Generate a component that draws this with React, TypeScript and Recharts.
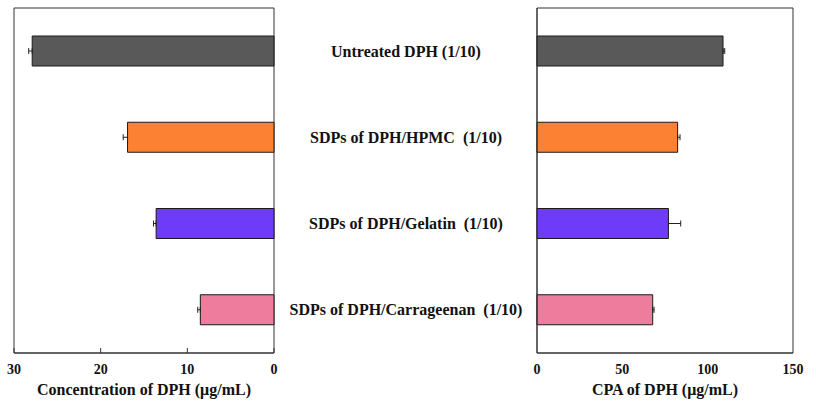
import React from 'react';
import { BarChart, Bar, XAxis, YAxis, ErrorBar, Cell, ReferenceArea } from 'recharts';

const categories = [
  'Untreated DPH (1/10)',
  'SDPs of DPH/HPMC  (1/10)',
  'SDPs of DPH/Gelatin  (1/10)',
  'SDPs of DPH/Carrageenan  (1/10)',
];
const concentration = [27.9, 16.9, 13.6, 8.5];
const concentrationErr = [0.4, 0.5, 0.3, 0.3];
const cpa = [109, 82.4, 77, 67.8];
const cpaErr = [1.0, 1.4, 7.2, 0.8];
const colors = ['#595959', '#FD8133', '#6E3BF8', '#EE7C9C'];
const concTicks = [0, 10, 20, 30];
const cpaTicks = [0, 50, 100, 150];

const data = categories.map((name, i) => ({
  name,
  conc: concentration[i],
  concErr: [0, concentrationErr[i]],
  cpa: cpa[i],
  cpaErr: [0, cpaErr[i]],
}));

const FONT = "'Liberation Serif', 'Times New Roman', serif";
const tickStyle = { fontFamily: FONT, fontWeight: 700, fontSize: 14, fill: '#111' };
const labelStyle = { fontFamily: FONT, fontWeight: 700, fontSize: 16, fill: '#111', textAnchor: 'middle' as const };
const axisStroke = '#333';

const CenterTick = (props: any) => {
  const { x, y, payload } = props;
  return (
    <text
      x={x - 131}
      y={y}
      dy="0.35em"
      textAnchor="middle"
      style={{ fontFamily: FONT, fontWeight: 700, fontSize: 16, fill: '#111', whiteSpace: 'pre' }}
    >
      {payload.value}
    </text>
  );
};

export default function App() {
  return (
    <div style={{ position: 'absolute', left: 0, top: 0, width: 816, height: 403, background: '#fff' }}>
      <div style={{ position: 'absolute', left: 0, top: 0 }}>
        <BarChart
          width={280}
          height={403}
          data={data}
          layout="vertical"
          margin={{ top: 8, right: 6, left: 14, bottom: 0 }}
        >
          <XAxis
            xAxisId="b"
            type="number"
            domain={[0, 30]}
            ticks={concTicks}
            reversed
            orientation="bottom"
            height={50}
            stroke={axisStroke}
            tickSize={-5}
            tickMargin={16}
            tick={tickStyle}
            label={{ value: 'Concentration of DPH (μg/mL)', position: 'insideBottom', offset: 8, style: labelStyle }}
          />
          <YAxis yAxisId="l" type="category" dataKey="name" hide />
          <ReferenceArea xAxisId="b" yAxisId="l" x1={0} x2={30} fill="none" stroke={axisStroke} strokeWidth={1} ifOverflow="visible" />
          <Bar dataKey="conc" xAxisId="b" yAxisId="l" barSize={30} stroke="#1a1a1a" strokeWidth={1} isAnimationActive={false}>
            {data.map((d, i) => (
              <Cell key={d.name} fill={colors[i]} />
            ))}
            <ErrorBar dataKey="concErr" direction="x" width={3} stroke="#222" strokeWidth={1} isAnimationActive={false} />
          </Bar>
        </BarChart>
      </div>
      <div style={{ position: 'absolute', left: 280, top: 0 }}>
        <BarChart
          width={536}
          height={403}
          data={data}
          layout="vertical"
          margin={{ top: 8, right: 23, left: 0, bottom: 0 }}
        >
          <XAxis
            xAxisId="b"
            type="number"
            domain={[0, 150]}
            ticks={cpaTicks}
            orientation="bottom"
            height={50}
            stroke={axisStroke}
            tickLine={false}
            tickSize={-5}
            tickMargin={16}
            tick={tickStyle}
            label={{ value: 'CPA of DPH (μg/mL)', position: 'insideBottom', offset: 8, style: labelStyle }}
          />
          <YAxis
            yAxisId="l"
            type="category"
            dataKey="name"
            orientation="left"
            width={257}
            stroke={axisStroke}
            tickLine={false}
            tickSize={0}
            tickMargin={0}
            tick={<CenterTick />}
            interval={0}
          />
          <ReferenceArea xAxisId="b" yAxisId="l" x1={0} x2={150} fill="none" stroke={axisStroke} strokeWidth={1} ifOverflow="visible" />
          <Bar dataKey="cpa" xAxisId="b" yAxisId="l" barSize={30} stroke="#1a1a1a" strokeWidth={1} isAnimationActive={false}>
            {data.map((d, i) => (
              <Cell key={d.name} fill={colors[i]} />
            ))}
            <ErrorBar dataKey="cpaErr" direction="x" width={3} stroke="#222" strokeWidth={1} isAnimationActive={false} />
          </Bar>
        </BarChart>
      </div>
    </div>
  );
}
